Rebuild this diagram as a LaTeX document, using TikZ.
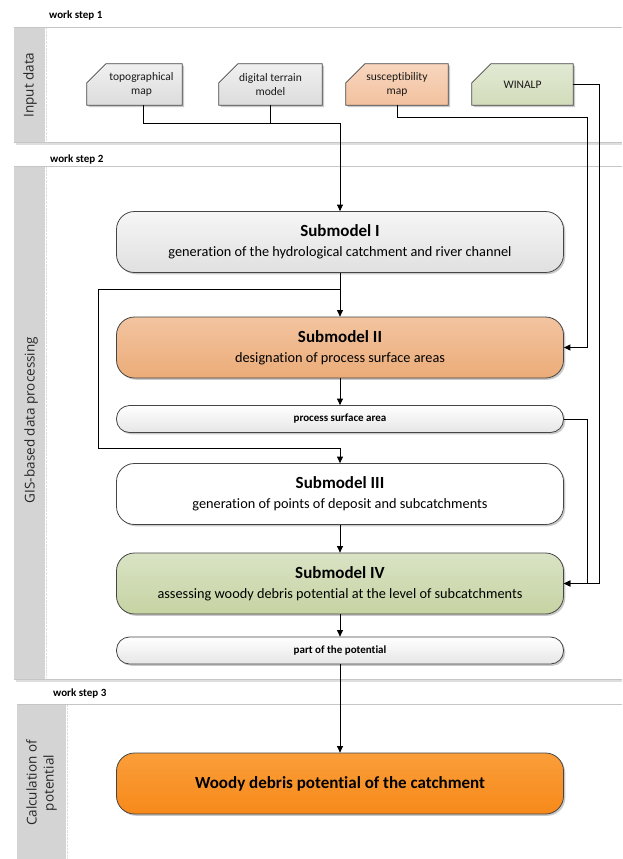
\documentclass[tikz,border=0pt]{standalone}
\usepackage{fontspec}
\setmainfont{Carlito}[Ligatures={NoCommon}]
\newfontfamily\hdfont{Open Sans}
\usetikzlibrary{shadows,arrows.meta,backgrounds}
\definecolor{headgray}{HTML}{D4D4D4}
\definecolor{laneline}{HTML}{C6C6C6}
\definecolor{edge}{HTML}{454545}
\definecolor{sAtop}{HTML}{F6F6F6}
\definecolor{sAbot}{HTML}{E0E0E0}
\definecolor{sBtop}{HTML}{F2C4A0}
\definecolor{sBbot}{HTML}{ECAC78}
\definecolor{sDtop}{HTML}{D9E3C5}
\definecolor{sDbot}{HTML}{C6D3A2}
\definecolor{wtop}{HTML}{FA9E3A}
\definecolor{wbot}{HTML}{F7891A}
\definecolor{ptop}{HTML}{FFFFFF}
\definecolor{pbot}{HTML}{E6E6E6}
\definecolor{gtop}{HTML}{F0F0F0}
\definecolor{gbot}{HTML}{DCDCDC}
\definecolor{otop}{HTML}{F8D6BE}
\definecolor{obot}{HTML}{F2C19E}
\definecolor{ltop}{HTML}{E2E9D4}
\definecolor{lbot}{HTML}{D2DCBA}
\newcommand\smtitle[1]{{\fontsize{17}{20}\selectfont\bfseries #1}}
\tikzset{
  shadowed/.style={drop shadow={shadow xshift=1.8pt,shadow yshift=-1.8pt,fill=black!30,opacity=0.7}},
  conn/.style={line width=0.9pt, draw=black, -{Triangle[length=6.5pt,width=6pt]}},
  plainline/.style={line width=0.9pt, draw=black},
  submodel/.style={shadowed, rounded corners=18pt, draw=edge, line width=0.8pt, minimum width=447pt, minimum height=61pt, align=center, inner sep=0pt, font=\fontsize{14.3}{20}\selectfont},
  pill/.style={shadowed, rounded corners=13pt, draw=edge, line width=0.8pt, minimum width=447pt, minimum height=27pt, top color=ptop, bottom color=pbot, inner sep=0pt, font=\fontsize{11}{13}\selectfont\bfseries},
  inbox/.style={minimum height=41pt, align=center, inner sep=0pt, font=\fontsize{11.5}{14.5}\selectfont, text=black!90},
  inshape/.style={shadowed, draw=edge, line width=0.7pt},
  steplabel/.style={anchor=west, inner sep=0pt, font=\fontsize{11}{13}\selectfont\bfseries},
  lanetitle/.style={rotate=90, inner sep=0pt, font=\hdfont\fontsize{13.5}{17}\selectfont, text=black!85, align=center},
  laneedge/.style={draw=laneline, line width=0.9pt},
  laneshadow/.style={fill=black!13},
}
\begin{document}
\begin{tikzpicture}[x=1pt,y=-1pt]
\useasboundingbox (0,0) rectangle (622,859);

% ---- lanes (background)
\begin{scope}[on background layer]
  % lane 1
  \fill[laneshadow] (16,142) rectangle (622,145);
  \fill[headgray] (14,27) rectangle (45,142);
  \draw[laneedge] (14,27) -- (622,27);
  \draw[laneedge] (14,142) -- (622,142);
  \draw[laneline!60, densely dotted] (46.5,28) -- (46.5,141);
  % lane 2
  \fill[laneshadow] (16,679) rectangle (622,682);
  \fill[headgray] (14,166) rectangle (45,679);
  \draw[laneedge] (14,166) -- (622,166);
  \draw[laneedge] (14,679) -- (622,679);
  \draw[laneline!60, densely dotted] (46.5,167) -- (46.5,678);
  % lane 3
  \fill[headgray] (17,704) rectangle (66,859);
  \draw[laneedge] (17,704) -- (622,704);
  \draw[laneline!60, densely dotted] (67.5,705) -- (67.5,859);
\end{scope}

% ---- lane titles and step labels
\node[steplabel] (ws1) at (49,16) {work step 1};
\node[steplabel] (ws2) at (50,160) {work step 2};
\node[steplabel] (ws3) at (53,693) {work step 3};
\node[lanetitle] (lt1) at (30,85) {Input data};
\node[lanetitle] (lt2) at (31,420) {GIS-based data processing};
\node[lanetitle] (lt3) at (41.5,783) {Calculation of\\potential};

% ---- input data nodes
\node[inbox, minimum width=95pt] (topo) at (134.5,84.5) {\hspace*{14pt}topographical\\\hspace*{14pt}map};
\node[inbox, minimum width=103pt] (dtm) at (270.5,84.5) {digital terrain\\model};
\node[inbox, minimum width=102pt] (sus) at (397,84.5) {susceptibility\\map};
\node[inbox, minimum width=101pt] (win) at (522.5,84.5) {WINALP};
\begin{scope}[on background layer]
  \foreach \n/\t/\b in {topo/gtop/gbot, dtm/gtop/gbot, sus/otop/obot, win/ltop/lbot}{
    \path[inshape, top color=\t, bottom color=\b]
      ([xshift=19pt]\n.north west) -- (\n.north east) -- (\n.south east)
      -- (\n.south west) -- ([yshift=-19pt]\n.north west) -- cycle;
  }
\end{scope}

% ---- process nodes
\node[submodel, top color=sAtop, bottom color=sAbot] (sm1) at (340,242)
  {\smtitle{Submodel I}\\generation of the hydrological catchment and river channel};
\node[submodel, top color=sBtop, bottom color=sBbot] (sm2) at (340,347.5)
  {\smtitle{Submodel II}\\designation of process surface areas};
\node[pill] (psa) at (340,419) {process surface area};
\node[submodel, fill=white] (sm3) at (340,494)
  {\smtitle{Submodel III}\\generation of points of deposit and subcatchments};
\node[submodel, top color=sDtop, bottom color=sDbot] (sm4) at (340,583.5)
  {\smtitle{Submodel IV}\\assessing woody debris potential at the level of subcatchments};
\node[pill] (pop) at (340,650.5) {part of the potential};
\node[submodel, top color=wtop, bottom color=wbot, font=\fontsize{17}{20}\selectfont\bfseries] (woody) at (340,783.5)
  {Woody debris potential of the catchment};

% ---- connectors
\coordinate (j1) at (340,123);
\draw[plainline] ([xshift=8.5pt]topo.south) |- (j1);
\draw[plainline] (dtm.south) |- (j1);
\draw[conn] (j1) -- (sm1.north);

\coordinate (c2) at (587,117);
\draw[conn] (sus.south) |- (c2) |- (sm2.east);

\coordinate (c3) at (599,84.5);
\draw[conn] (win.east) -- (c3) |- (sm4.east);

\coordinate (c4) at (587,419);
\draw[conn] (psa.east) -- (c4) |- (sm4.east);

\draw[conn] (sm1.south) -- (sm2.north);
\coordinate (l1) at (340,289);
\coordinate (l2) at (98,289);
\coordinate (l3) at (98,448);
\coordinate (l4) at (340,448);
\draw[conn] (l1) -- (l2) -- (l3) -- (l4) -- (sm3.north);

\draw[conn] (sm2.south) -- (psa.north);
\draw[conn] (sm3.south) -- (sm4.north);
\draw[conn] (sm4.south) -- (pop.north);
\draw[conn] (pop.south) -- (woody.north);
\end{tikzpicture}
\end{document}
